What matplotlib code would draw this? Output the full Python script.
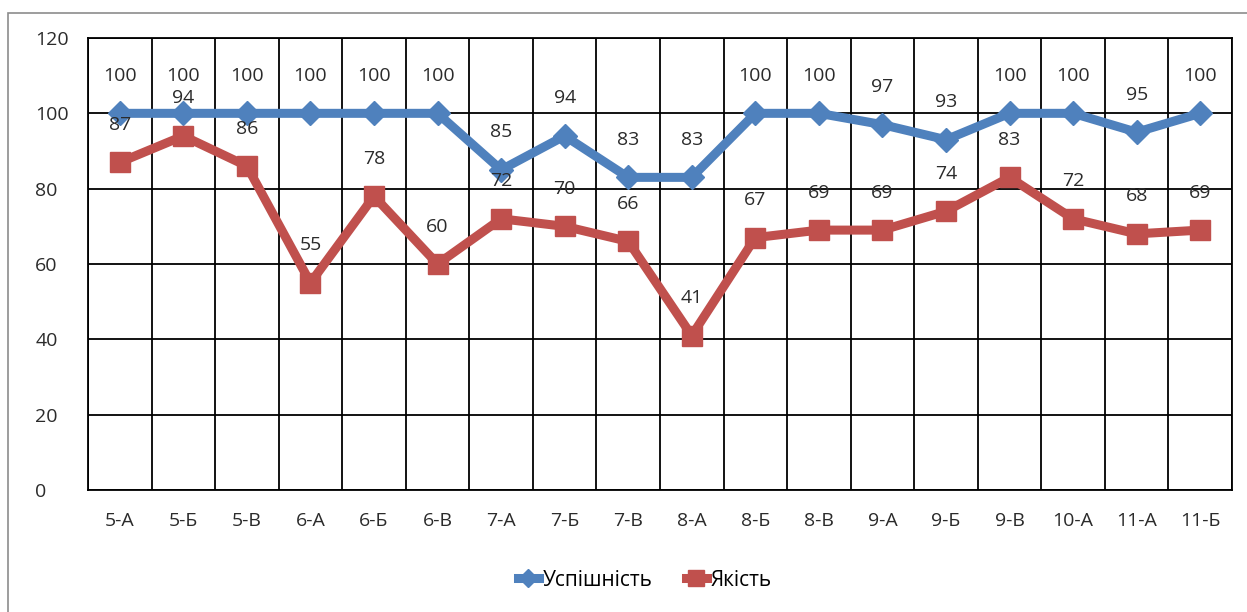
import matplotlib.pyplot as plt
import numpy as np
from matplotlib.patches import Rectangle

classes = ["5-А", "5-Б", "5-В", "6-А", "6-Б", "6-В", "7-А", "7-Б", "7-В",
           "8-А", "8-Б", "8-В", "9-А", "9-Б", "9-В", "10-А", "11-А", "11-Б"]
uspishnist = [100, 100, 100, 100, 100, 100, 85, 94, 83, 83, 100, 100, 97, 93, 100, 100, 95, 100]
yakist = [87, 94, 86, 55, 78, 60, 72, 70, 66, 41, 67, 69, 69, 74, 83, 72, 68, 69]

plt.rcParams["font.family"] = ["Open Sans", "DejaVu Sans"]

blue = "#4F81BD"
red = "#C0504D"
txt = "#2b2b2b"

fig = plt.figure(figsize=(12.47, 6.12), dpi=100)
ax = fig.add_axes([88 / 1247, 1 - 490 / 612, (1232 - 88) / 1247, (490 - 38) / 612])

# outer chart frame
fig.patches.append(Rectangle((8 / 1247, -0.05), 1.1, 1 - 13 / 612 + 0.05,
                             transform=fig.transFigure, fill=False,
                             edgecolor="#8c8c8c", lw=1.2))

x = np.arange(len(classes))
ax.plot(x, uspishnist, color=blue, lw=6.5, marker="D", ms=12,
        label="Успішність", zorder=3)
ax.plot(x, yakist, color=red, lw=6.5, marker="s", ms=15,
        label="Якість", zorder=3)

for xi, v in zip(x, uspishnist):
    ax.annotate(str(v), (xi, v), xytext=(0, 27), textcoords="offset points",
                ha="center", va="center", fontsize=14, color=txt)
for xi, v in zip(x, yakist):
    ax.annotate(str(v), (xi, v), xytext=(0, 27), textcoords="offset points",
                ha="center", va="center", fontsize=14, color=txt)

ax.set_xlim(-0.5, len(classes) - 0.5)
ax.set_ylim(0, 120)
ax.set_yticks(range(0, 121, 20))
ax.set_xticks(x)
ax.set_xticklabels(classes)
ax.set_xticks(np.arange(-0.5, len(classes), 1), minor=True)
ax.grid(axis="y", color="black", lw=1.3)
ax.grid(axis="x", which="minor", color="black", lw=1.3)
ax.set_axisbelow(True)
ax.tick_params(axis="both", which="both", length=0, labelsize=14,
               colors=txt)
ax.tick_params(axis="x", pad=16)
ax.tick_params(axis="y", pad=38)
for lbl in ax.get_yticklabels():
    lbl.set_horizontalalignment("left")
for s in ax.spines.values():
    s.set_color("black")
    s.set_linewidth(1.3)

fig.legend(loc="center", bbox_to_anchor=(645 / 1247, 1 - 580 / 612), ncol=2,
           frameon=False, fontsize=15, handlelength=1.0, handletextpad=0.2,
           columnspacing=1.6, markerscale=0.8)

fig.savefig("out.png", dpi=100)
